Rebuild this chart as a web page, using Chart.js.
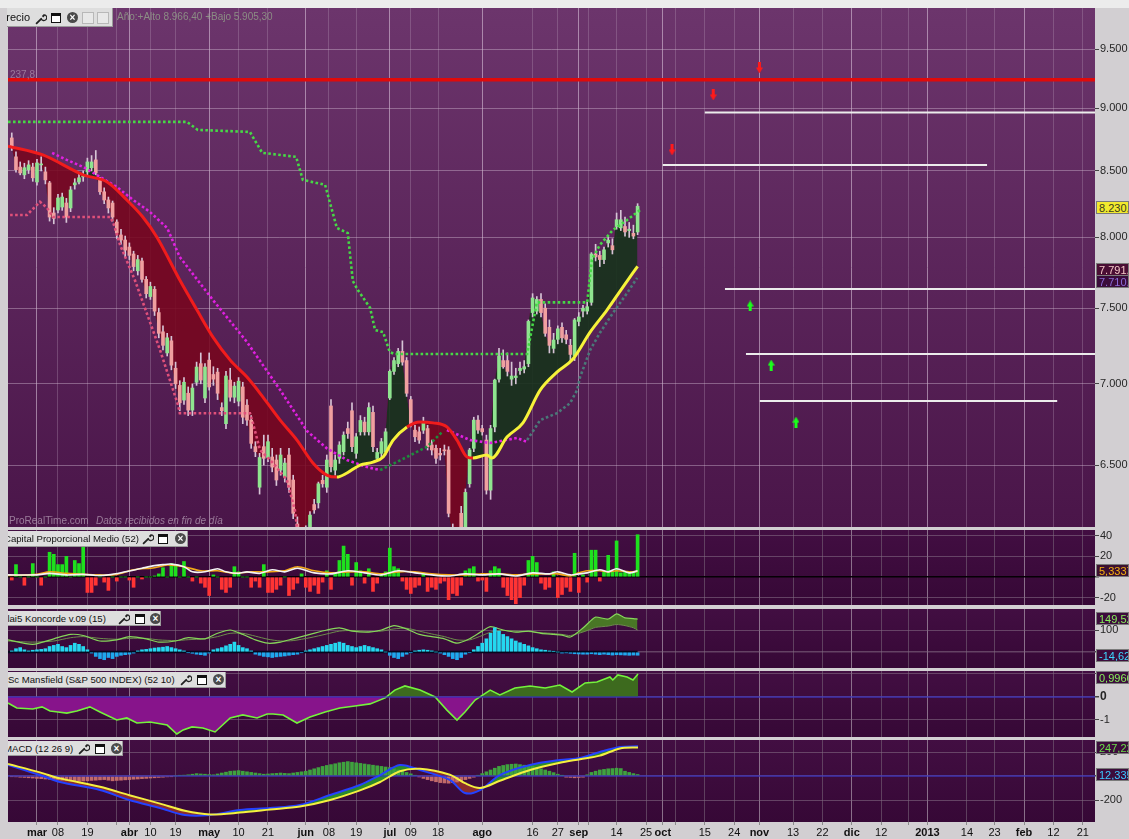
<!DOCTYPE html>
<html lang="es">
<head>
<meta charset="utf-8">
<title>IBEX 35 - Precio e indicadores</title>
<script src="https://cdn.jsdelivr.net/npm/chart.js@4.4.1/dist/chart.umd.min.js"></script>
<style>
  html, body { margin:0; padding:0; }
  body { width:1129px; height:839px; position:relative; overflow:hidden; background:#d2cfd2; font-family:'Liberation Sans', Arial, sans-serif; }
  canvas { position:absolute; display:block; }
  .topstrip { position:absolute; left:0; top:0; width:1129px; height:8px; background:#ececec; }
  .hdr { position:absolute; background:#dedede; overflow:hidden; white-space:nowrap; color:#111; border-right:1px solid #9a9a9a; border-bottom:1px solid #9a9a9a; box-sizing:border-box; z-index:5; }
  .hdr .t { position:absolute; top:0; }
  .ic { position:absolute; }
  .win { width:8px; height:6px; border:1px solid #111; border-top:3px solid #111; background:#fff; }
  .cls { width:11px; height:11px; border-radius:50%; background:#4a4a4a; color:#fff; font-size:10px; line-height:11px; text-align:center; font-weight:bold; }
  .fad { width:10px; height:10px; border:1px solid #b8b8b8; background:#e8e8e8; }
  .vb { position:absolute; left:1096px; width:33px; height:13px; overflow:hidden; white-space:nowrap; font-size:11px; line-height:12px; padding-left:2px; box-sizing:border-box; border:1px solid #7a7a7a; z-index:5; }
  .note { position:absolute; white-space:nowrap; z-index:4; }
</style>
</head>
<body>
<div class="topstrip"></div>
<script>
// ---------------- DATA ----------------
const START = -6;                 // trading-day index of first candle (1 Mar 2012 = 0)
const X_MIN = -6.9, X_MAX = 251.9;

// x-axis gridlines (trading-day index) and their labels
const gridIdx = [0,5,12,19,22,27,33,41,48,55,64,69.5,76,84,89,95.5,106,118,124,129,131.4,138,145,149,152,159,166,172,180,187,194,201,207.4,212,221.4,228,235,242,249];
const gridLbl = ['mar','08','19','','abr','10','19','may','10','21','jun','08','19','jul','09','18','ago','16','27','sep','','14','25','oct','','15','24','nov','13','22','dic','12','','2013','14','23','feb','12','21'];
const monthLbl = ['mar','abr','may','jun','jul','ago','sep','oct','nov','dic','2013','feb'];

// daily candles
const openP = [8760,8610,8530,8470,8510,8530,
 8415,8547,8493,8408,8180,8203,8225,8255,8218,8393,
 8415,8455,8493,8525,8586,8431,8340,8278,8255,8113,
 8018,7981,7930,7880,7760,7830,7700,7580,7630,7470,
 7340,7200,7280,7100,6990,6897,6940,6834,7010,7130,
 6910,7153,7060,7075,6850,6750,7024,6915,6890,6980,
 6865,6772,6610,6370,6610,6545,6548,6530,6470,6430,
 6560,6412,6160,6080,6060,6120,6270,6280,6410,6370,
 6860,6470,6540,6580,6720,6830,6570,6700,6760,6700,
 6820,6540,6570,6580,6910,7080,7130,7210,7150,6900,
 6710,6700,6710,6720,6620,6600,6570,6590,6590,6130,
 6060,6220,6120,6390,6600,6772,6720,6650,6353,6730,
 7030,7150,7150,7030,7040,7085,7095,7130,7470,7480,
 7560,7500,7370,7230,7290,7370,7320,7250,7180,7410,
 7480,7480,7540,7880,7870,7840,7960,7940,8080,8070,
 8080,8050,8030,8040];
const highP = [8800,8650,8570,8560,8580,8560,
 8590,8610,8530,8420,8220,8320,8330,8290,8380,8440,
 8480,8500,8600,8620,8660,8450,8370,8300,8270,8130,
 8060,8010,7960,7900,7870,7850,7720,7680,7650,7500,
 7380,7330,7310,7140,7020,7040,6980,7000,7140,7200,
 7130,7200,7110,7100,6880,7080,7100,7010,7040,7010,
 6900,6800,6640,6570,6680,6680,6600,6560,6600,6540,
 6600,6440,6200,6110,6150,6230,6300,6400,6440,6560,
 6900,6560,6640,6700,6760,6880,6690,6800,6790,6880,
 6860,6600,6660,6720,7090,7170,7230,7280,7170,6920,
 6740,6730,6790,6740,6650,6620,6600,6620,6610,6160,
 6080,6260,6360,6600,6790,6800,6740,6680,6740,7030,
 7230,7220,7200,7140,7100,7140,7150,7420,7600,7580,
 7600,7530,7420,7330,7380,7400,7350,7290,7430,7470,
 7520,7540,7890,7950,7900,7930,8010,7990,8180,8200,
 8150,8110,8090,8250];
const lowP = [8660,8490,8470,8440,8480,8420,
 8390,8500,8400,8120,8100,8180,8200,8110,8190,8360,
 8400,8420,8470,8500,8470,8320,8250,8180,8120,7990,
 7950,7860,7840,7760,7730,7680,7570,7560,7450,7300,
 7220,7180,7090,6970,6830,6870,6800,6800,6990,7000,
 6880,6960,6990,6900,6800,6720,6890,6880,6860,6750,
 6740,6600,6550,6330,6500,6520,6460,6380,6440,6400,
 6340,6190,6090,5990,6020,6100,6220,6250,6370,6340,
 6460,6440,6510,6560,6660,6580,6540,6680,6680,6680,
 6580,6520,6550,6560,6900,7060,7110,7120,6920,6730,
 6640,6630,6690,6590,6560,6510,6530,6560,6200,6050,
 5905,6120,6100,6370,6580,6690,6680,6330,6300,6700,
 7010,7100,7050,6990,7000,7060,7070,7110,7440,7460,
 7440,7310,7200,7200,7260,7270,7260,7150,7150,7380,
 7440,7460,7520,7830,7790,7810,7930,7880,8060,8050,
 8010,8000,7990,8020];
const closeP = [8690,8510,8485,8525,8547,8447,
 8562,8550,8431,8150,8140,8293,8300,8150,8354,8408,
 8447,8460,8570,8570,8485,8340,8278,8218,8150,8032,
 7981,7908,7870,7790,7840,7700,7600,7650,7480,7330,
 7250,7300,7120,7000,6880,7010,6834,6973,7108,7024,
 7108,6980,7030,6940,6830,7050,6915,6985,7017,6790,
 6772,6630,6580,6545,6540,6640,6488,6412,6560,6512,
 6370,6220,6130,6040,6130,6210,6240,6390,6390,6530,
 6490,6530,6620,6680,6690,6610,6670,6770,6700,6850,
 6610,6575,6640,6700,7080,7150,7210,7140,6940,6750,
 6670,6650,6760,6610,6590,6540,6560,6585,6220,6080,
 5980,6140,6340,6590,6772,6711,6700,6353,6720,7024,
 7180,7110,7080,7050,7050,7100,7110,7410,7570,7560,
 7470,7330,7250,7285,7360,7300,7290,7190,7420,7440,
 7500,7510,7880,7860,7840,7910,7980,7910,8130,8130,
 8040,8060,8010,8230.7];

// moving average (red above price / yellow below)
const maIdx = [-6.9,1.4,11,16.7,21.4,25.2,28.6,34,38.1,41.9,46,50,53.8,57.9,61.9,65.7,69,71.4,73.8,76.9,80,82.4,84.8,88.1,91.2,94.3,97.6,100,102.4,103.8,107.1,108.3,111.9,115.7,119.8,123.8,127.6,131.7,135.7,139.5,143];
const maVal = [8695,8625,8470,8415,8278,8150,8000,7695,7487,7305,7153,7043,6916,6772,6650,6512,6441,6429,6453,6500,6518,6548,6650,6730,6761,6755,6730,6650,6548,6542,6560,6542,6668,6755,6960,7075,7160,7338,7487,7646,7791.7];
const maRedRanges = [[-10,71.4],[89,105]];

// dotted stop lines
const magIdx = [3.6,7.1,11,15,19,22.9,26.9,31,34,41.9,50,57.9,64.3,69,73.8,78.6,81.7,90,97.6,103.1,107.9,114.3,116.7];
const magVal = [8641,8586,8531,8454,8377,8278,8188,8069,7858,7556,7272,6960,6705,6600,6530,6488,6470,null,6711,6650,6632,6663,6638];
const dgIdx = [81.7,88.1,92.9,96.7];
const dgVal = [6470,6548,6610,6705];
const tlIdx = [116.7,119.8,123.8,126.9,128.6,129.3,131.7,134,137.1,140.5,142.9];
const tlVal = [6650,6772,6815,6877,6960,7043,7219,7332,7466,7604,7710];
const grIdx = [-6.9,35.7,38.3,50.7,53.6,61.7,63.3,68.6,71.4,74,75.2,76.4,79.3,80.5,82.4,84,85.2,116.7,119,131,132.1,134,137.1,140.5,143.6];
const grVal = [8889,8889,8824,8808,8642,8610,8431,8393,8069,8032,7688,7625,7503,7352,7338,7205,7193,7193,7540,7540,7837,7945,8054,8128,8203];
const pkIdx = [-6.4,-2.4,0,0.7,2.4,3.8,17.4,18.1,19.8,23.3,29.3,33.6,34,50.7,51.4,53.1,56.2,59.5,61.4,61.9];
const pkVal = [8165,8165,8241,8264,8218,8150,8150,8113,7945,7695,7219,6865,6815,6815,6755,6590,6512,6412,6239,6143];

// horizontal levels
const resistLevel = 9237.8;
const whiteStart = [159,149,163.8,168.8,172.1];
const whiteEnd   = [X_MAX,226.2,X_MAX,X_MAX,242.9];
const whiteLevel = [8966.4,8547,7632,7193,6891];
const redArrIdx = [151.2,161,172];
const redArrVal = [8664,9110,9337];
const grnArrIdx = [169.8,174.8,180.7];
const grnArrVal = [7515,7121,6760];
const priceTicks = [9500,9000,8500,8000,7500,7000,6500];

// Capital Proporcional Medio (52)
const cpmBars = [-3,12,0,-8,0,13,
 0,-8,0,24,22,12,12,20,0,16,
 13,29,-15,-15,-8,0,-5,-13,0,-4,
 0,0,-3,-10,0,-2,0,0,1,3,
 9,0,13,12,0,15,0,-4,0,-6,
 -10,-18,2,0,-12,-15,-10,10,5,0,
 0,-10,-4,-10,12,-15,-15,-12,-8,0,
 -18,-12,-6,3,-10,-14,-8,-16,-5,6,
 -12,4,16,30,22,-8,14,6,-6,8,
 -14,-6,3,5,28,10,8,-4,-12,-16,
 -10,-8,4,-14,-10,-12,-6,-4,-22,-16,
 -18,-8,6,8,10,-4,-3,-14,6,10,
 8,-10,-18,-22,-26,-20,-8,16,20,14,
 -6,-12,-10,5,-20,-17,-10,-14,23,-15,
 2,-5,26,26,-4,5,21,5,35,4,
 5,4,5,41];
const whIdx = [-7,0,3,7,11,14,17,21,25,28,30,32,35,37,40,43,45,48,50,53,56,59,62,66,70,74,78,82,86,90,94,98,102,106,110,114,118,122,124,127,129,131,134,136,138,141,143];
const whVal = [2,2,3.5,2,2.5,1.5,2,5,8.5,11,12,12.5,10,5,5,8,5,3.5,5,3.5,7,5,8.5,4,3,6,4,2,6,4,2,1,3,2,3,1,4,3,5,2,3,4,7,5,8,4,6];
const orIdx = [-7,0,3,7,11,15,19,23,28,31,35,39,43,47,51,55,59,62,66,70,74,78,82,86,90,94,98,102,106,110,114,118,122,124,127,129,131,134,136,138,141,143];
const orVal = [1.5,2.5,5,3.5,2.5,2,2.5,7,9,11.6,10,6,6,3.5,5,5,6,10,6,4,5,5,3,5,5,3,2,2,3,3,2,3,3,3,1,4,6,6,5,6,5,5.3337];

// Koncorde
const kgIdx = [-6.9,-1,4,8,11,15,19,22,26,29,33,36,40,43,46,49,52,55,58,61,65,69,72,75,79,82,85,88,91,94,97,100,103,106,108,111,114,117,120,123,125,127,130,132,133,136,138,140,142,143];
const kgVal = [55,35,60,80,75,50,55,70,60,45,50,65,60,85,100,80,55,40,45,60,80,100,110,95,90,100,120,105,80,70,60,40,60,95,115,100,90,95,85,80,77,68,109,145,159,150,173,155,152,149.52];
const kmVal = [50,45,50,65,70,62,58,62,62,55,52,56,60,70,85,85,72,58,50,52,65,82,95,98,93,95,105,108,95,82,70,55,55,75,90,98,95,93,88,84,80,75,91,105,112,118,125,120,110,100];
const konFillFrom = 127;          // olive band only drawn on the final rally
const konBars = [5,15,20,10,5,8,
 10,12,15,25,30,35,25,20,30,40,
 35,25,10,-5,-20,-30,-35,-25,-30,-20,
 -15,-12,-10,-5,5,10,12,15,18,20,
 22,25,20,15,10,5,-3,-6,-10,-12,
 -15,-5,10,15,20,28,35,45,30,20,
 15,5,-10,-15,-20,-22,-25,-22,-20,-18,
 -15,-12,-10,-3,5,10,15,20,25,30,
 35,40,45,40,30,25,20,25,30,25,
 20,15,10,0,-15,-25,-30,-20,-10,-3,
 5,8,10,8,5,0,-5,-12,-20,-30,
 -35,-25,-10,-3,10,25,40,60,85,110,
 95,80,70,60,50,42,35,28,20,15,
 10,8,5,3,0,-5,-4,-6,-8,-9,
 -10,-10,-8,-10,-12,-10,-12,-14,-12,-13,
 -14,-15,-14,-14.62];

// Mansfield (S&P 500 INDEX)
const msIdx = [-6.9,-4.8,-1,1.2,3.1,5,7.1,9.5,12.6,15,19,21.4,23.8,26.9,31,33.3,34.8,36.9,39.5,42.4,46,49,52.4,54.8,56.2,58.6,61.9,65,68.6,72.1,75.7,79.3,82.9,85.2,87.6,91.2,94.8,97.6,100,101.9,104.3,107.9,110.2,113.8,117.4,121,124.5,127.4,130.5,133.3,136.4,137.1,138.3,140.5,141.9,143.1];
const msVal = [-0.26,-0.48,-0.52,-0.43,-0.61,-0.65,-0.70,-0.61,-0.43,-0.65,-1.0,-0.91,-1.13,-1.09,-1.22,-1.61,-1.43,-1.30,-1.35,-1.52,-0.91,-0.78,-0.91,-0.74,-0.74,-0.78,-1.13,-0.87,-0.65,-0.48,-0.39,-0.30,-0.04,0.30,0.48,0.30,0,-0.57,-1.0,-0.65,-0.13,0.30,0.09,0.39,0.48,0.39,0.52,0.22,0.61,0.65,0.87,0.74,0.96,0.87,0.74,0.9966];

// MACD (12 26 9)
const mcIdx = [-6.9,0.7,5.5,15,22,29.3,35.2,41.2,48.3,55.5,62.6,69.8,76.9,81.7,86.4,91.2,98.3,101.9,105.5,110.2,117.4,124.5,129.3,134,138.8,143.1];
const mcVal = [92,8,-50,-117,-200,-267,-325,-325,-283,-267,-242,-158,-75,8,92,50,-33,-142,-117,8,92,133,150,200,242,247.22];
const sgVal = [100,30,-20,-90,-160,-230,-290,-320,-305,-280,-255,-200,-120,-50,40,60,10,-60,-100,-40,50,110,140,170,230,238];
const macdHist = [-5,-7,-10,-12,-15,-17,
 -20,-22,-25,-27,-30,-32,-35,-37,-40,-42,
 -45,-42,-40,-37,-35,-32,-30,-35,-40,-37,
 -35,-32,-30,-27,-25,-22,-20,-17,-15,-12,
 -10,-7,-5,0,5,7,10,15,20,17,
 15,12,10,17,25,32,40,42,45,40,
 35,30,25,20,15,17,20,22,25,22,
 20,25,30,35,40,50,60,70,80,88,
 95,102,110,115,120,115,110,105,100,95,
 90,85,80,75,70,60,50,40,30,18,
 5,-8,-20,-30,-40,-48,-55,-58,-60,-55,
 -50,-40,-30,-20,-10,5,20,35,50,65,
 80,88,95,98,100,95,90,85,80,70,
 60,50,40,28,15,3,-10,-12,-15,-12,
 -10,10,30,40,50,55,60,62,65,62,
 40,30,20,12.335];

// ---------------- HELPERS ----------------
Chart.defaults.font.family = "'Liberation Sans', Arial, sans-serif";
Chart.defaults.font.size = 11;
const dayX = i => START + i;
const pts = (xs, ys) => xs.map((x, i) => ({ x: x, y: ys[i] }));
const daily = arr => arr.map((v, i) => ({ x: dayX(i), y: v }));
const thousands = v => String(v).replace(/\B(?=(\d{3})+(?!\d))/g, '.');
const noPad = s => { s.paddingTop = 0; s.paddingBottom = 0; s.paddingLeft = 0; s.paddingRight = 0; };

function bgPlugin(c1, c2) {
  return { id: 'bg', beforeDraw(chart) {
    const a = chart.chartArea, ctx = chart.ctx;
    const g = ctx.createLinearGradient(0, a.top, 0, a.bottom);
    g.addColorStop(0, c1); g.addColorStop(1, c2);
    ctx.save(); ctx.fillStyle = g; ctx.fillRect(a.left, a.top, a.right - a.left, a.bottom - a.top); ctx.restore();
  }};
}

function xScale(show, majCol, minCol) {
  return {
    type: 'linear', min: X_MIN, max: X_MAX, offset: false,
    afterBuildTicks: s => { s.ticks = gridIdx.map((v, i) => ({ value: v, major: monthLbl.includes(gridLbl[i]) })); },
    afterFit: s => { s.height = show ? 17 : 0; noPad(s); },
    border: { display: false },
    grid: { offset: false, drawTicks: show, tickLength: 3, tickColor: '#8a8a8a',
            color: c => (c.tick && c.tick.major) ? majCol : minCol, lineWidth: 1 },
    ticks: { display: show, autoSkip: false, maxRotation: 0, padding: 1, color: '#111',
             callback: (v, i) => gridLbl[i],
             font: c => ({ size: 11, weight: (c.tick && c.tick.major) ? 'bold' : 'normal' }) }
  };
}

function yScale(type, min, max, ticks, labelFn, gridColorFn, fontFn) {
  return {
    type: type, position: 'right', min: min, max: max,
    afterBuildTicks: s => { s.ticks = ticks.map(v => ({ value: v })); },
    afterFit: s => { s.width = 34; noPad(s); },
    border: { display: false },
    grid: { color: gridColorFn, drawTicks: true, tickLength: 4, tickColor: '#444',
            lineWidth: c => (c.tick && c.tick.value === 0) ? 1.5 : 1 },
    ticks: { color: '#262626', autoSkip: false, padding: 1, callback: labelFn, font: fontFn || { size: 11 } }
  };
}

function baseOptions(xs, ys) {
  return {
    responsive: false, animation: false, events: [],
    layout: { padding: 0, autoPadding: false },
    plugins: { legend: { display: false }, tooltip: { enabled: false }, filler: { drawTime: 'beforeDatasetsDraw', propagate: false } },
    scales: { x: xs, y: ys }
  };
}

function mkCanvas(top, height) {
  const c = document.createElement('canvas');
  c.width = 1121; c.height = height;
  c.style.left = '8px'; c.style.top = top + 'px';
  document.body.appendChild(c);
  return c;
}

function arrowImg(color, down) {
  const c = document.createElement('canvas'); c.width = 7; c.height = 11;
  const g = c.getContext('2d'); g.fillStyle = color;
  g.beginPath();
  if (down) { g.fillRect(2, 0, 3, 6); g.moveTo(0, 5); g.lineTo(7, 5); g.lineTo(3.5, 11); }
  else { g.fillRect(2, 5, 3, 6); g.moveTo(0, 6); g.lineTo(7, 6); g.lineTo(3.5, 0); }
  g.closePath(); g.fill();
  return c;
}

const dotted = (color, data, order, w) => ({ type: 'line', data: data, borderColor: color, borderWidth: w || 2.6,
  borderDash: [2.6, 2.4], borderCapStyle: 'butt', pointRadius: 0, fill: false, spanGaps: false, order: order });

const PRICE_MAJ = 'rgba(225,205,225,0.55)', PRICE_MIN = 'rgba(185,155,185,0.32)';
const IND_MAJ = 'rgba(165,145,165,0.75)', IND_MIN = 'rgba(120,100,120,0.6)';

// ---------------- PRICE PANEL ----------------
const maColor = c => {
  const xm = (c.p0.parsed.x + c.p1.parsed.x) / 2;
  return maRedRanges.some(r => xm >= r[0] && xm < r[1]) ? '#f01c1c' : '#f6f23a';
};
const priceSets = [
  { type: 'line', data: daily(closeP), borderWidth: 0, borderColor: 'rgba(0,0,0,0)', pointRadius: 0, fill: false, order: 30 },
  { type: 'bar', data: lowP.map((l, i) => ({ x: dayX(i), y: [l, highP[i]] })), backgroundColor: '#d6c4d6', barThickness: 1, grouped: false, order: 20 },
  { type: 'bar', data: openP.map((o, i) => ({ x: dayX(i), y: [o, closeP[i]] })),
    backgroundColor: c => closeP[c.dataIndex] >= openP[c.dataIndex] ? '#8fe48f' : '#f0a0a0',
    barThickness: 3, grouped: false, minBarLength: 1, order: 19 },
  { type: 'line', data: pts(maIdx, maVal), borderColor: '#f01c1c', borderWidth: 3, pointRadius: 0,
    cubicInterpolationMode: 'monotone', segment: { borderColor: maColor },
    fill: { target: 0, above: 'rgba(120,6,30,0.88)', below: 'rgba(24,50,28,0.92)' }, order: 5 },
  dotted('#e020e0', pts(magIdx, magVal), 12),
  dotted('#1e8c3c', pts(dgIdx, dgVal), 12),
  dotted('#4a7878', pts(tlIdx, tlVal), 12),
  dotted('#46d846', pts(grIdx, grVal), 11),
  dotted('#e0507a', pts(pkIdx, pkVal), 12),
  { type: 'line', data: [{ x: X_MIN, y: resistLevel }, { x: X_MAX, y: resistLevel }], borderColor: '#e00a0a', borderWidth: 3.5, pointRadius: 0, fill: false, order: 8 }
];
whiteLevel.forEach((lv, i) => priceSets.push({ type: 'line', data: [{ x: whiteStart[i], y: lv }, { x: whiteEnd[i], y: lv }],
  borderColor: '#ececec', borderWidth: 2, pointRadius: 0, fill: false, order: 9 }));
priceSets.push({ type: 'line', data: pts(redArrIdx, redArrVal), showLine: false, pointStyle: arrowImg('#ff1a1a', true), pointRadius: 5, order: 1 });
priceSets.push({ type: 'line', data: pts(grnArrIdx, grnArrVal), showLine: false, pointStyle: arrowImg('#1aff1a', false), pointRadius: 5, order: 1 });

new Chart(mkCanvas(8, 519), {
  type: 'bar',
  data: { datasets: priceSets },
  options: baseOptions(
    xScale(false, PRICE_MAJ, PRICE_MIN),
    yScale('logarithmic', 6143, 9862, priceTicks, v => thousands(v), 'rgba(205,180,205,0.45)')
  ),
  plugins: [bgPlugin('#6c356c', '#4a1549')]
});

// ---------------- CAPITAL PROPORCIONAL MEDIO ----------------
new Chart(mkCanvas(530, 75), {
  type: 'bar',
  data: { datasets: [
    { type: 'bar', data: daily(cpmBars), backgroundColor: c => (c.raw && c.raw.y >= 0) ? '#1ee01e' : '#ff3434', barThickness: 3, grouped: false, order: 5 },
    { type: 'line', data: pts(orIdx, orVal), borderColor: '#f0a818', borderWidth: 1.6, pointRadius: 0, tension: 0.3, fill: false, order: 2 },
    { type: 'line', data: pts(whIdx, whVal), borderColor: '#f4f4f4', borderWidth: 1.6, pointRadius: 0, tension: 0.3, fill: false, order: 1 }
  ]},
  options: baseOptions(
    xScale(false, IND_MAJ, IND_MIN),
    yScale('linear', -27.2, 45.6, [40, 20, 0, -20], v => v === 0 ? '' : String(v),
      c => (c.tick && c.tick.value === 0) ? '#050005' : 'rgba(130,105,130,0.6)')
  ),
  plugins: [bgPlugin('#420e42', '#360836')]
});

// ---------------- KONCORDE ----------------
const kgAll = pts(kgIdx, kgVal), kmAll = pts(kgIdx, kmVal);
new Chart(mkCanvas(609, 59), {
  type: 'bar',
  data: { datasets: [
    { type: 'line', data: kgAll.filter(p => p.x >= konFillFrom), borderWidth: 0, borderColor: 'rgba(0,0,0,0)', pointRadius: 0, tension: 0.25,
      fill: { target: 1, above: 'rgba(74,128,36,0.92)', below: 'rgba(0,0,0,0)' }, order: 9 },
    { type: 'line', data: kmAll.filter(p => p.x >= konFillFrom), borderWidth: 0, borderColor: 'rgba(0,0,0,0)', pointRadius: 0, tension: 0.25, fill: false, order: 9 },
    { type: 'line', data: kgAll, borderColor: '#86d65a', borderWidth: 1.2, pointRadius: 0, tension: 0.25, fill: false, order: 3 },
    { type: 'line', data: kmAll, borderColor: '#6c8c4c', borderWidth: 1, pointRadius: 0, tension: 0.25, fill: false, order: 4 },
    { type: 'bar', data: daily(konBars), backgroundColor: c => (c.raw && c.raw.y >= 0) ? '#24d8f0' : '#1fa8ee', barThickness: 3, grouped: false, order: 1 },
    { type: 'line', data: [{ x: X_MIN, y: 0 }, { x: 143, y: 0 }], borderColor: '#07071e', borderWidth: 2.5, pointRadius: 0, fill: false, order: 2 }
  ]},
  options: baseOptions(
    xScale(false, IND_MAJ, IND_MIN),
    yScale('linear', -72.7, 195.5, [100, 0], v => v === 0 ? '' : String(v), 'rgba(130,105,130,0.6)')
  ),
  plugins: [bgPlugin('#420e42', '#360836')]
});

// ---------------- MANSFIELD ----------------
new Chart(mkCanvas(671, 66), {
  type: 'bar',
  data: { datasets: [
    { type: 'line', data: pts(msIdx, msVal), borderColor: '#74f23c', borderWidth: 1.6, pointRadius: 0,
      fill: { target: { value: 0 }, above: '#3d6a1e', below: '#87148b' }, order: 2 },
    { type: 'line', data: [{ x: X_MIN, y: 0 }, { x: X_MAX, y: 0 }], borderColor: '#2a2ad2', borderWidth: 1.2, pointRadius: 0, fill: false, order: 1 }
  ]},
  options: baseOptions(
    xScale(false, IND_MAJ, IND_MIN),
    yScale('linear', -1.739, 1.13, [1, 0, -1], v => v === 1 ? '' : String(v), 'rgba(130,105,130,0.6)',
      c => ({ size: c.tick && c.tick.value === 0 ? 12 : 11, weight: c.tick && c.tick.value === 0 ? 'bold' : 'normal' }))
  ),
  plugins: [bgPlugin('#420e42', '#360836')]
});

// ---------------- MACD ----------------
new Chart(mkCanvas(740, 99), {
  type: 'bar',
  data: { datasets: [
    { type: 'line', data: pts(mcIdx, mcVal), borderColor: '#2442ff', borderWidth: 2, pointRadius: 0, tension: 0.3,
      fill: { target: 1, above: '#2b8a2b', below: '#8c2c2c' }, order: 2 },
    { type: 'line', data: pts(mcIdx, sgVal), borderColor: '#f4f040', borderWidth: 2, pointRadius: 0, tension: 0.3, fill: false, order: 1 },
    { type: 'bar', data: daily(macdHist), backgroundColor: c => (c.raw && c.raw.y >= 0) ? '#3fa23f' : '#c26a6a', barThickness: 3, grouped: false, order: 5 },
    { type: 'line', data: [{ x: X_MIN, y: 0 }, { x: X_MAX, y: 0 }], borderColor: '#2a2ad2', borderWidth: 1.2, pointRadius: 0, fill: false, order: 3 }
  ]},
  options: baseOptions(
    xScale(true, IND_MAJ, IND_MIN),
    yScale('linear', -383.3, 300, [200, 0, -200], v => v === 0 ? '' : String(v), 'rgba(130,105,130,0.6)')
  ),
  plugins: [bgPlugin('#420e42', '#360836')]
});

// ---------------- OVERLAYS (headers, value boxes, notes) ----------------
const wrench = '<svg width="12" height="12" viewBox="0 0 12 12"><path d="M1.6 10.4 L6.2 5.8" stroke="#222" stroke-width="1.8" stroke-linecap="round"/><path d="M6.2 5.8 A2.9 2.9 0 1 0 9.8 1.9 L8.2 3.5 L7.8 3.1 L9.4 1.5" stroke="#222" stroke-width="1.3" fill="none"/></svg>';
function header(text, left, top, width, height, shift, size, icons) {
  const d = document.createElement('div');
  d.className = 'hdr';
  Object.assign(d.style, { left: left + 'px', top: top + 'px', width: width + 'px', height: height + 'px', fontSize: size + 'px', lineHeight: height + 'px' });
  let html = '<span class="t" style="left:' + shift + 'px">' + text + '</span>';
  icons.forEach(ic => {
    const x = ic[1] - left, y = Math.round((height - 12) / 2);
    if (ic[0] === 'w') html += '<span class="ic" style="left:' + x + 'px;top:' + y + 'px">' + wrench + '</span>';
    if (ic[0] === 'b') html += '<span class="ic win" style="left:' + x + 'px;top:' + (y + 1) + 'px"></span>';
    if (ic[0] === 'x') html += '<span class="ic cls" style="left:' + x + 'px;top:' + y + 'px">×</span>';
    if (ic[0] === 'f') html += '<span class="ic fad" style="left:' + x + 'px;top:' + y + 'px"></span>';
  });
  d.innerHTML = html;
  document.body.appendChild(d);
}
header('Precio', 7, 8, 106, 19, -8, 11, [['w', 35], ['b', 51], ['x', 67], ['f', 82], ['f', 97]]);
header('Capital Proporcional Medio (52)', 8, 531, 180, 16, -4, 9.6, [['w', 142], ['b', 158], ['x', 175]]);
header('Blai5 Koncorde v.09 (15)', 8, 611, 153, 15, -7, 9.6, [['w', 118], ['b', 135], ['x', 150]]);
header('RSc Mansfield (S&P 500 INDEX) (52 10)', 8, 672, 218, 16, -7, 9.6, [['w', 180], ['b', 197], ['x', 213]]);
header('MACD (12 26 9)', 8, 741, 115, 15, -4, 9.6, [['w', 78], ['b', 95], ['x', 111]]);

function vbox(text, top, bg, color) {
  const d = document.createElement('div'); d.className = 'vb';
  Object.assign(d.style, { top: top + 'px', background: bg, color: color });
  d.textContent = text; document.body.appendChild(d);
}
vbox('8.230,7', 201, '#f2ea2e', '#3a3a20');
vbox('7.791,7', 263, '#4a0e34', '#f4c8c8');
vbox('7.710,0', 275, '#3a0c3a', '#8a6ad8');
vbox('5,3337', 564, '#3c1030', '#f4b010');
vbox('149,52', 612, '#3c0c3c', '#86f05a');
vbox('-14,62', 649, '#3c0c3c', '#3cd8ff');
vbox('0,9966', 671, '#3c0c3c', '#86f05a');
vbox('247,22', 741, '#3c0c3c', '#6ae048');
vbox('12,335', 768, '#3c0c3c', '#3cc8ff');

function note(text, left, top, size, color, style) {
  const d = document.createElement('div'); d.className = 'note';
  Object.assign(d.style, { left: left + 'px', top: top + 'px', fontSize: size + 'px', color: color, fontStyle: style || 'normal' });
  d.textContent = text; document.body.appendChild(d);
  return d;
}
note('Año:+Alto 8.966,40 +Bajo 5.905,30', 117, 11, 10, 'rgba(150,170,140,0.75)');
note('237,8', 10, 69, 10, 'rgba(175,150,175,0.7)');
note('ProRealTime.com', 9, 515, 10, 'rgba(175,150,175,0.8)');
note('Datos recibidos en fin de día', 96, 515, 10, 'rgba(175,150,175,0.8)', 'italic');
</script>
</body>
</html>
